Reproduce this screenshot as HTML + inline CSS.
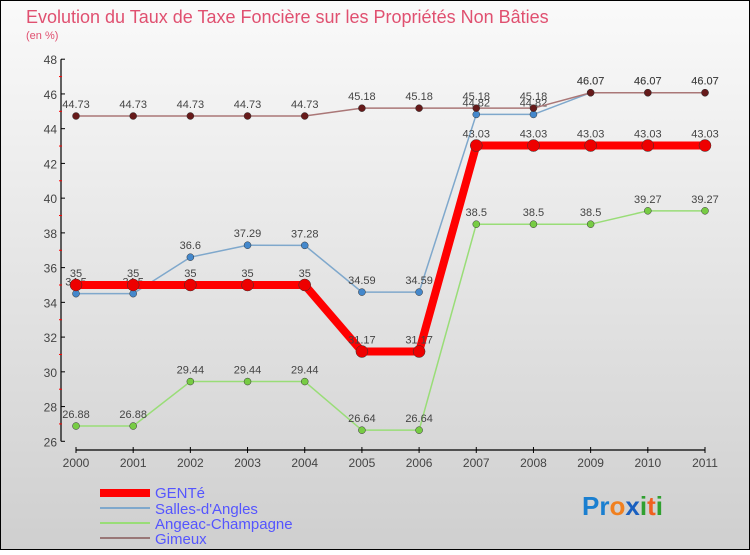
<!DOCTYPE html>
<html><head><meta charset="utf-8"><style>
body{margin:0;width:750px;height:550px;overflow:hidden;font-family:"Liberation Sans",sans-serif}
svg text{font-family:"Liberation Sans",sans-serif}
</style></head><body>
<svg id="c" width="750" height="550" xmlns="http://www.w3.org/2000/svg">
<defs><linearGradient id="bg" x1="0" y1="0" x2="0" y2="1"><stop offset="0" stop-color="#fafafa"/><stop offset="1" stop-color="#cfcfcf"/></linearGradient></defs>
<rect x="0.5" y="0.5" width="749" height="549" fill="url(#bg)" stroke="#000"/>
<text x="26" y="23" font-size="18" fill="#e05070">Evolution du Taux de Taxe Foncière sur les Propriétés Non Bâties</text>
<text x="26" y="39" font-size="11" fill="#e05070">(en %)</text>
<g id="axes"></g><g id="series"></g>
<g>
<rect x="100" y="489" width="50" height="8" fill="#f00"/>
<text x="155" y="498" font-size="15" fill="#5555ff">GENTé</text>
<line x1="100" y1="508" x2="150" y2="508" stroke="#7fa8cc" stroke-width="2"/>
<text x="155" y="514" font-size="15" fill="#5555ff">Salles-d'Angles</text>
<line x1="100" y1="523" x2="150" y2="523" stroke="#99dd77" stroke-width="2"/>
<text x="155" y="529" font-size="15" fill="#5555ff">Angeac-Champagne</text>
<line x1="100" y1="538" x2="150" y2="538" stroke="#997777" stroke-width="2"/>
<text x="155" y="544" font-size="15" fill="#5555ff">Gimeux</text>
</g>
<text x="582" y="515" font-size="26" font-weight="bold"><tspan fill="#1a7fd0">Pr</tspan><tspan fill="#f08020">o</tspan><tspan fill="#1a60c0">x</tspan><tspan fill="#30a030">i</tspan><tspan fill="#f06020">t</tspan><tspan fill="#30a030">i</tspan></text>
</svg>
<script>
const years=["2000","2001","2002","2003","2004","2005","2006","2007","2008","2009","2010","2011"];
const yTicks=[26,28,30,32,34,36,38,40,42,44,46,48];
const gente=[35,35,35,35,35,31.17,31.17,43.03,43.03,43.03,43.03,43.03];
const salles=[34.5,34.5,36.6,37.29,37.28,34.59,34.59,44.82,44.82,46.07,46.07,46.07];
const angeac=[26.88,26.88,29.44,29.44,29.44,26.64,26.64,38.5,38.5,38.5,39.27,39.27];
const gimeux=[44.73,44.73,44.73,44.73,44.73,45.18,45.18,45.18,45.18,46.07,46.07,46.07];
const NS="http://www.w3.org/2000/svg";
const X=i=>76+i*(705-76)/11;
const Y=v=>441.3-(v-26)*(441.3-59.2)/22;
function mk(t,a,p){const e=document.createElementNS(NS,t);for(const k in a)e.setAttribute(k,a[k]);p.appendChild(e);return e;}
const ax=document.getElementById('axes');
let l=mk('line',{x1:61,y1:Y(48),x2:61,y2:Y(26),stroke:'#000','stroke-width':1.2},ax);


l=mk('line',{x1:76,y1:450,x2:705,y2:450,stroke:'#000','stroke-width':1.2},ax);


yTicks.forEach(v=>{
 mk('line',{x1:61,y1:Y(v),x2:65,y2:Y(v),stroke:'#000'},ax);
 if(v<48){mk('line',{x1:59,y1:Y(v+1),x2:62,y2:Y(v+1),stroke:'#f00'},ax);}
 const t=mk('text',{x:57,y:Y(v)+5,'font-size':12,fill:'#444','text-anchor':'end'},ax);t.textContent=v;
 
 
});
years.forEach((y,i)=>{
 mk('line',{x1:X(i),y1:447,x2:X(i),y2:453,stroke:'#000'},ax);
 const t=mk('text',{x:X(i),y:467,'font-size':12,fill:'#444','text-anchor':'middle'},ax);t.textContent=y;
 
 
});
const sg=document.getElementById('series');
function draw(d,name,line,pt,w,r){
 const g=mk('g',{},sg);
 
 
 const pl=mk('polyline',{points:d.map((v,i)=>X(i)+','+Y(v)).join(' '),fill:'none',stroke:line,'stroke-width':w,'stroke-linejoin':'round'},g);
 
 
 d.forEach((v,i)=>{
  const c=mk('circle',{cx:X(i),cy:Y(v),r:r,fill:pt,stroke:'#333','stroke-width':0.5},g);
  
  
  const t=mk('text',{x:X(i),y:Y(v)-8,'font-size':11,fill:'#444','text-anchor':'middle'},g);t.textContent=v;
  
  
 });
}
draw(angeac,'angeac','#99dd77','#77cc44',1.5,3.5);
draw(salles,'salles','#7fa8cc','#4488cc',1.5,3.5);
draw(gimeux,'gimeux','#aa7777','#661a1a',1.5,3.5);
draw(gente,'gente','#ff0000','#ee0000',8,6);
</script>
</body></html>
